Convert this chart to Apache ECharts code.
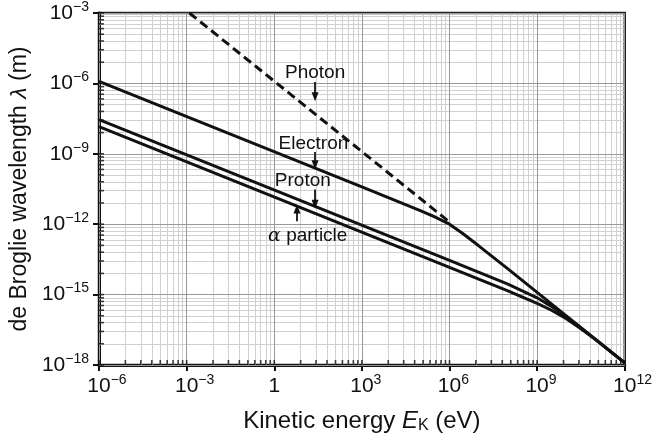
<!DOCTYPE html>
<html><head><meta charset="utf-8">
<script src="https://cdn.jsdelivr.net/npm/echarts@6/dist/echarts.min.js"></script>
<style>html,body{margin:0;padding:0;background:#fff}#c{width:655px;height:442px}</style>
</head><body><div id="c"></div>
<script>
// ---- data ----
const xTicks = [1e-6, 1e-3, 1, 1e3, 1e6, 1e9, 1e12];
const yTicks = [1e-18, 1e-15, 1e-12, 1e-9, 1e-6, 1e-3];

const photonE = [1.24e-3, 1e6];
const photonL = [1e-3, 1.24e-12];

const electronE = [1e-6, 1e3, 1e5, 3e5, 1e6, 3e6, 1e7, 1e8, 1e10, 1e12];
const electronL = [1.23e-6, 3.9e-11, 3.8e-12, 2.1e-12, 1.0e-12, 3.8e-13, 1.2e-13, 1.24e-14, 1.24e-16, 1.24e-18];

const protonE = [1e-6, 1e6, 1e8, 1e9, 3e9, 1e10, 3e10, 1e11, 1e12];
const protonL = [2.86e-8, 2.86e-14, 2.79e-15, 7.3e-16, 3.24e-16, 1.14e-16, 4.0e-17, 1.23e-17, 1.24e-18];

const alphaE = [1e-6, 1e6, 1e8, 1e9, 3e9, 1e10, 3e10, 1e11, 1e12];
const alphaL = [1.44e-8, 1.44e-14, 1.43e-15, 4.26e-16, 2.21e-16, 9.4e-17, 3.7e-17, 1.2e-17, 1.24e-18];

// annotation labels
const labelNames = ['Photon', 'Electron', 'Proton', 'α particle'];
const labelE = [25, 22, 9.5, 14];
const labelL = [2.75e-6, 2.6e-9, 7.2e-11, 3.2e-13];
// arrows: tail -> head
const arrowE = [25, 25, 25, 6];
const arrowTailL = [1.15e-6, 1.2e-9, 3.0e-11, 1.35e-12];
const arrowHeadL = [2.7e-7, 3.4e-10, 7.1e-12, 4.4e-12];

// ---- helpers ----
const FONT = "'Liberation Sans', Arial, Helvetica, sans-serif";
const zip = (a, b) => a.map((v, i) => [v, b[i]]);
function minorVals(ticks) {
  const out = [];
  for (let i = 0; i < ticks.length - 1; i++)
    for (let k = 2; k <= 9; k++) out.push(ticks[i] * k * k * k);
  return out;
}
const xMinor = minorVals(xTicks), yMinor = minorVals(yTicks);
const xMin = xTicks[0], xMax = xTicks[xTicks.length - 1];
const yMin = yTicks[0], yMax = yTicks[yTicks.length - 1];
function expStr(v) {
  const e = Math.round(Math.log10(v));
  return { e, s: (e < 0 ? '−' : '') + Math.abs(e) };
}
const TXT = '#111';
const tickRich = {
  b: { fontSize: 21, fontFamily: FONT, color: TXT, lineHeight: 26 },
  s: { fontSize: 14, fontFamily: FONT, color: TXT, verticalAlign: 'top', lineHeight: 14 },
  h: { fontSize: 14, fontFamily: FONT, color: 'rgba(0,0,0,0)', verticalAlign: 'top', lineHeight: 14 }
};
const xNameRich = {
  n: { fontSize: 24, fontFamily: FONT, color: TXT },
  i: { fontSize: 24, fontFamily: FONT, color: TXT, fontStyle: 'italic' },
  k: { fontSize: 16, fontFamily: FONT, color: TXT, verticalAlign: 'bottom', padding: [10, 0, 0, 0] }
};
const yNameRich = {
  n: { fontSize: 23, fontFamily: FONT, color: TXT },
  i: { fontSize: 23, fontFamily: FONT, color: TXT, fontStyle: 'italic' }
};

const MINOR = { color: '#d0d0d0', width: 1, type: 'solid' };
const MAJOR = { color: '#999999', width: 1, type: 'solid' };
const vLine = (v, st) => [{ coord: [v, yMin], lineStyle: st }, { coord: [v, yMax] }];
const hLine = (v, st) => [{ coord: [xMin, v], lineStyle: st }, { coord: [xMax, v] }];
const gridLines = []
  .concat(xMinor.map(v => vLine(v, MINOR)))
  .concat(yMinor.map(v => hLine(v, MINOR)))
  .concat(xTicks.map(v => vLine(v, MAJOR)))
  .concat(yTicks.map(v => hLine(v, MAJOR)));

const arrowLines = arrowE.map((e, i) => [
  { coord: [e, arrowTailL[i]], symbol: 'none' },
  { coord: [e, arrowHeadL[i]], symbol: 'triangle' }
]);

const lineStyleMain = { color: '#111', width: 3 };

const option = {
  animation: false,
  backgroundColor: '#fff',
  grid: { left: 97, right: 26, top: 8, bottom: 77, show: true, borderColor: '#222', borderWidth: 2.5, backgroundColor: 'transparent' },
  xAxis: {
    type: 'log', logBase: 1000, min: xMin, max: xMax, splitNumber: 6,
    axisLine: { show: true, lineStyle: { color: '#111', width: 3 } },
    axisTick: { show: true, length: 6, lineStyle: { color: '#111', width: 2 } },
    splitLine: { show: false }, minorTick: { show: false }, minorSplitLine: { show: false },
    axisLabel: {
      margin: 8,
      formatter: v => { const { e, s } = expStr(v); return e === 0 ? '{b|1}' : '{h|' + s + '}{b|10}{s|' + s + '}'; },
      rich: tickRich
    },
    name: '{n|Kinetic energy }{i|E}{k|K}{n| (eV)}',
    nameLocation: 'middle', nameGap: 43,
    nameTextStyle: { rich: xNameRich }
  },
  yAxis: {
    type: 'log', logBase: 1000, min: yMin, max: yMax, splitNumber: 5,
    axisLine: { show: true, lineStyle: { color: '#111', width: 3 } },
    axisTick: { show: true, length: 6, lineStyle: { color: '#111', width: 2 } },
    splitLine: { show: false }, minorTick: { show: false }, minorSplitLine: { show: false },
    axisLabel: {
      margin: 10,
      formatter: v => { const { e, s } = expStr(v); return e === 0 ? '{b|1}' : '{b|10}{s|' + s + '}'; },
      rich: tickRich
    },
    name: '{n|de Broglie wavelength }{i|λ}{n| (m)}',
    nameLocation: 'middle', nameGap: 66, nameRotate: 90,
    nameTextStyle: { rich: yNameRich }
  },
  series: [
    { name: 'grid', type: 'line', data: [], silent: true, z: 1,
      markLine: { silent: true, z: 1, animation: false, symbol: ['none', 'none'], label: { show: false },
        emphasis: { disabled: true }, data: gridLines } },
    { name: 'Photon', type: 'line', data: zip(photonE, photonL), showSymbol: false, symbol: 'none', z: 3,
      lineStyle: { color: '#111', width: 3, type: [9, 5] } },
    { name: 'Alpha', type: 'line', data: zip(alphaE, alphaL), showSymbol: false, symbol: 'none', z: 3, lineStyle: lineStyleMain },
    { name: 'Proton', type: 'line', data: zip(protonE, protonL), showSymbol: false, symbol: 'none', z: 3, lineStyle: lineStyleMain },
    { name: 'Electron', type: 'line', data: zip(electronE, electronL), showSymbol: false, symbol: 'none', z: 3, lineStyle: lineStyleMain },
    { name: 'xminor', type: 'scatter', silent: true, clip: false, z: 5, symbol: 'rect', symbolSize: [1.6, 5], symbolOffset: [0, -2.5],
      itemStyle: { color: '#111' }, data: xMinor.map(v => [v, yMin]).concat(xTicks.map(v => [v, yMin])) },
    { name: 'yminor', type: 'scatter', silent: true, clip: false, z: 5, symbol: 'rect', symbolSize: [5, 1.6], symbolOffset: [2.5, 0],
      itemStyle: { color: '#111' }, data: yMinor.map(v => [xMin, v]).concat(yTicks.map(v => [xMin, v])) },
    { name: 'arrows', type: 'line', data: [], silent: true, z: 6,
      markLine: { silent: true, z: 6, animation: false, symbolSize: [7, 9], label: { show: false },
        emphasis: { disabled: true },
        lineStyle: { color: '#111', width: 1.8, type: 'solid', opacity: 1 }, data: arrowLines } },
    { name: 'labels', type: 'scatter', silent: true, z: 7, symbolSize: 0,
      data: labelE.map((e, i) => [e, labelL[i], labelNames[i]]),
      itemStyle: { opacity: 1 },
      label: { show: true, position: 'inside', color: TXT, opacity: 1, fontSize: 19, fontFamily: FONT,
        formatter: p => p.value[2] === 'α particle' ? '{a|α} particle' : p.value[2],
        rich: { a: { fontSize: 19, fontFamily: 'DejaVu Serif', fontStyle: 'italic', color: TXT } } } }
  ]
};
const chart = echarts.init(document.getElementById('c'), null, { renderer: 'canvas' });
chart.setOption(option);
</script></body></html>
